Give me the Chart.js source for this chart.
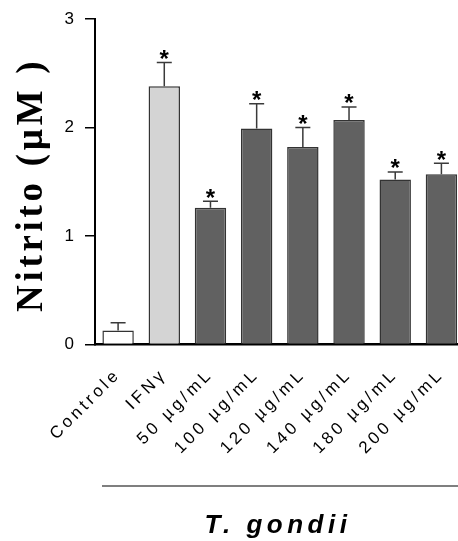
<!DOCTYPE html>
<html>
<head>
<meta charset="utf-8">
<script src="https://cdn.jsdelivr.net/npm/chart.js@4"></script>
<style>
  html, body { margin: 0; padding: 0; background: #fff; overflow: hidden; }
  #wrap { width: 458px; height: 541px; overflow: hidden; position: relative; }
  #wrap canvas { position: absolute; left: 0; top: 0; }
</style>
</head>
<body>
<div id="wrap"><canvas id="myChart" width="466" height="541"></canvas></div>
<script>
// data
var categories = ['Controle', 'IFN\u03b3', '50 \u00b5g/mL', '100 \u00b5g/mL', '120 \u00b5g/mL', '140 \u00b5g/mL', '180 \u00b5g/mL', '200 \u00b5g/mL'];
var nitrite = [0.13, 2.38, 1.26, 1.99, 1.82, 2.07, 1.52, 1.57];
var nitriteErr = [0.07, 0.22, 0.06, 0.23, 0.18, 0.12, 0.07, 0.10];
var significant = [false, true, true, true, true, true, true, true];
var groups = ['control', 'ifn', 'tg', 'tg', 'tg', 'tg', 'tg', 'tg'];
var yTicks = [0, 1, 2, 3];

var groupFill = { control: '#ffffff', ifn: '#d4d4d4', tg: '#616161' };

Chart.defaults.font.family = 'Liberation Sans, Arial, sans-serif';
Chart.defaults.font.size = 17;
Chart.defaults.color = '#000';

// error bars + asterisks
var errorBars = {
  id: 'errorBars',
  afterDatasetsDraw: function(chart) {
    var ctx = chart.ctx;
    var y = chart.scales.y;
    var meta = chart.getDatasetMeta(0);
    ctx.save();
    ctx.letterSpacing = '0px';
    ctx.strokeStyle = '#3a3a3a';
    ctx.lineWidth = 1.5;
    ctx.fillStyle = '#000';
    ctx.font = 'bold 24px "Liberation Sans", Arial, sans-serif';
    ctx.textAlign = 'center';
    ctx.textBaseline = 'alphabetic';
    meta.data.forEach(function(bar, i) {
      var top = y.getPixelForValue(nitrite[i] + nitriteErr[i]);
      var base = y.getPixelForValue(nitrite[i]);
      ctx.beginPath();
      ctx.moveTo(bar.x, base);
      ctx.lineTo(bar.x, top);
      ctx.moveTo(bar.x - 7.5, top);
      ctx.lineTo(bar.x + 7.5, top);
      ctx.stroke();
      if (significant[i]) {
        ctx.fillText('*', bar.x, top + 4.5);
      }
    });
    ctx.restore();
  }
};

// axis titles and the T. gondii bracket line
var titles = {
  id: 'titles',
  beforeDraw: function(chart) {
    chart.ctx.letterSpacing = '3.5px';
  },
  afterDraw: function(chart) {
    var ctx = chart.ctx;
    ctx.save();
    ctx.fillStyle = '#000';
    // y title
    ctx.letterSpacing = '3.7px';
    ctx.font = 'bold 37px "Liberation Serif", "Times New Roman", serif';
    ctx.translate(42, 312);
    ctx.rotate(-Math.PI / 2);
    ctx.textAlign = 'left';
    ctx.textBaseline = 'alphabetic';
    ctx.fillText('Nitrito (\u00b5M )', 0, 0);
    ctx.restore();

    ctx.save();
    ctx.strokeStyle = '#555';
    ctx.lineWidth = 1.5;
    ctx.beginPath();
    ctx.moveTo(102, 486);
    ctx.lineTo(466, 486);
    ctx.stroke();
    ctx.letterSpacing = '4.5px';
    ctx.fillStyle = '#000';
    ctx.font = 'italic bold 26px "Liberation Sans", Arial, sans-serif';
    ctx.textAlign = 'center';
    ctx.fillText('T. gondii', 278, 533);
    ctx.restore();
  }
};

var ctx = document.getElementById('myChart').getContext('2d');
var chart = new Chart(ctx, {
  type: 'bar',
  data: {
    labels: categories,
    datasets: [{
      data: nitrite,
      backgroundColor: groups.map(function(g) { return groupFill[g]; }),
      borderColor: '#333',
      borderWidth: 1.5,
      barPercentage: 0.68,
      categoryPercentage: 1
    }]
  },
  options: {
    responsive: false,
    animation: false,
    devicePixelRatio: 1,
    layout: { padding: { left: 0, top: 19, right: 1.5, bottom: 0 } },
    plugins: { legend: { display: false }, tooltip: { enabled: false } },
    scales: {
      x: {
        grid: { display: false, drawTicks: false },
        border: { color: '#000', width: 2.5 },
        ticks: {
          color: '#000',
          font: { size: 17 },
          minRotation: 45,
          maxRotation: 45,
          autoSkip: false,
          padding: 20
        },
        afterFit: function(s) {
          s.height = 196.5;
          s.paddingLeft = 0;
          s.paddingRight = 0;
        }
      },
      y: {
        min: 0,
        max: 3,
        afterBuildTicks: function(s) { s.ticks = yTicks.map(function(v) { return { value: v }; }); },
        grid: { drawOnChartArea: false, drawTicks: true, tickLength: 10, color: '#000', lineWidth: 1.5 },
        border: { color: '#000', width: 2 },
        ticks: {
          color: '#000',
          font: { size: 17 },
          padding: 7.5
        },
        afterFit: function(s) { s.width = 95; }
      }
    }
  },
  plugins: [errorBars, titles]
});
</script>
</body>
</html>
